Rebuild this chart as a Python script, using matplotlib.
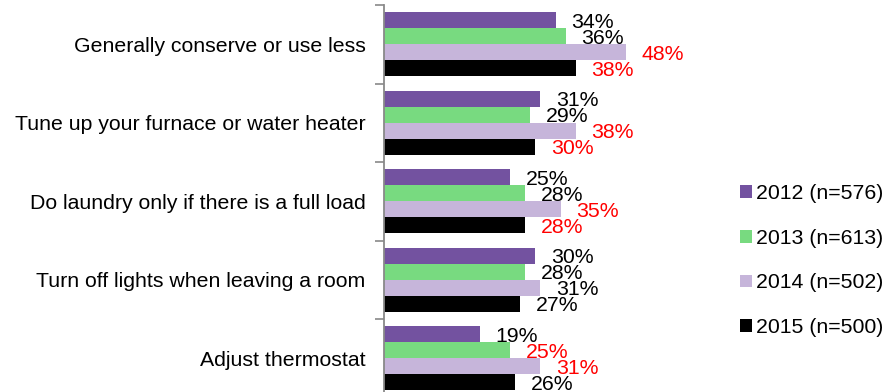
import matplotlib
matplotlib.use("Agg")
import matplotlib.pyplot as plt
from matplotlib.patches import Patch
import numpy as np

plt.rcParams['font.family'] = ['Liberation Sans', 'DejaVu Sans']

categories = [
    "Generally conserve or use less",
    "Tune up your furnace or water heater",
    "Do laundry only if there is a full load",
    "Turn off lights when leaving a room",
    "Adjust thermostat",
]
series_names = ["2012 (n=576)", "2013 (n=613)", "2014 (n=502)", "2015 (n=500)"]
values_2012 = [34, 31, 25, 30, 19]
values_2013 = [36, 29, 28, 28, 25]
values_2014 = [48, 38, 35, 31, 31]
values_2015 = [38, 30, 28, 27, 26]
# labels shown in red (True) or black (False)
red_2012 = [False, False, False, False, False]
red_2013 = [False, False, False, False, True]
red_2014 = [True, True, True, False, True]
red_2015 = [True, True, True, False, False]

colors = ["#7352A0", "#78DA80", "#C6B5DA", "#000000"]
all_values = [values_2012, values_2013, values_2014, values_2015]
all_red = [red_2012, red_2013, red_2014, red_2015]

W, H = 884, 392
fig = plt.figure(figsize=(W / 100, H / 100), dpi=100)
ax = fig.add_axes([383.5 / W, -5.5 / H, 0.3434, 392.5 / H])

fs = 15.3
n_cat = len(categories)
bar_h = 0.204
y_centers = np.arange(n_cat)
for i, (vals, reds, col) in enumerate(zip(all_values, all_red, colors)):
    ys = y_centers + (i - 1.5) * bar_h
    ax.barh(ys, vals, height=bar_h, color=col, edgecolor='none', zorder=2)
    for y, v, r in zip(ys, vals, reds):
        ax.annotate(f"{v}%", xy=(v, y), xytext=(11.2, -1.6), textcoords='offset points',
                    ha='left', va='center', fontsize=fs,
                    color='#FF0000' if r else '#000000', zorder=3)

ax.set_xlim(0, 60)
ax.set_ylim(n_cat - 0.5, -0.5)
ax.set_yticks(y_centers)
ax.set_yticklabels(categories, fontsize=fs)
ax.tick_params(axis='y', which='major', length=0, pad=13)
ax.set_yticks(np.arange(-0.5, n_cat + 0.5, 1), minor=True)
ax.tick_params(axis='y', which='minor', length=6.5, width=1.2, color='#898989', direction='out')
ax.set_xticks([])
for s in ['top', 'right', 'bottom']:
    ax.spines[s].set_visible(False)
ax.spines['left'].set_color('#898989')
ax.spines['left'].set_linewidth(1.3)

handles = [Patch(facecolor=c, edgecolor='none') for c in colors]
fig.legend(handles, series_names, loc='upper left', bbox_to_anchor=(740 / W, 1 - 184 / H),
           frameon=False, fontsize=fs, handlelength=0.55, handleheight=0.55,
           handletextpad=0.2, labelspacing=1.21, borderaxespad=0, borderpad=0)

fig.savefig("out.png", dpi=100)
